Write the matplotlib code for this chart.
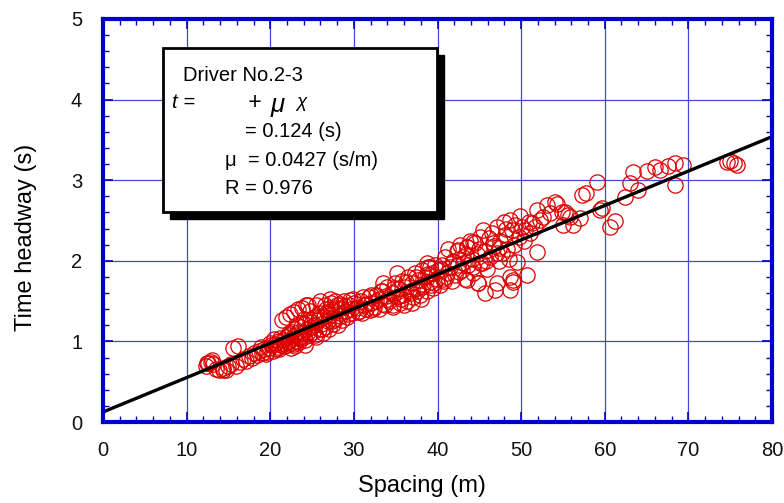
import matplotlib
matplotlib.use("Agg")
import matplotlib.pyplot as plt
from matplotlib.patches import Rectangle
from matplotlib.ticker import MultipleLocator
import numpy as np

plt.rcParams['font.family'] = ['Liberation Sans', 'DejaVu Sans']

# Regression coefficients
tau0 = 0.124
mu = 0.0427
r_value = 0.976

# Observed (spacing [m], time headway [s]) pairs
spacing = [
    12.3, 12.4, 12.6, 12.9, 13.0, 13.2, 13.5, 13.9, 14.3, 14.4, 14.7, 15.0, 15.3, 15.6, 16.1, 15.9,
    16.4, 16.8, 17.1, 17.4, 17.8, 18.1, 18.4, 18.7, 19.0, 19.3, 19.6,
    19.8, 20.1, 20.3, 20.6, 20.9, 21.1, 21.3, 21.5, 21.7, 21.9, 22.1, 22.2, 22.4, 22.5, 22.6, 22.7,
    22.8, 22.9, 23.0, 23.1, 21.4, 21.9, 22.4, 22.8, 23.3, 23.8, 24.3, 24.5, 20.5, 21.0, 22.0, 24.2,
    23.3, 23.5, 23.7, 23.9, 24.1, 24.2, 24.4, 24.6, 24.7, 24.9, 25.1, 25.2, 25.4, 25.5, 25.7, 25.8,
    26.0, 26.1, 26.3, 26.4, 26.6, 26.7, 26.9, 27.0, 27.2, 27.3, 27.5, 27.6, 27.8, 28.0, 28.1, 28.3,
    28.5, 28.6, 28.8, 29.0, 29.2, 29.4, 29.6, 29.8, 30.0, 26.0, 25.5, 24.8, 28.3, 27.2, 29.5,
    30.3, 30.6, 30.9, 31.2, 31.5, 31.8, 32.1, 32.4, 32.7, 33.0, 33.2, 33.5, 33.8, 34.0, 34.2, 34.5,
    34.7, 34.9, 35.1, 35.3, 35.5, 35.7, 35.9, 36.1, 36.3, 36.5, 36.7, 36.9, 37.1, 37.3, 37.5, 37.7,
    37.9, 38.1, 38.3, 38.5, 38.7, 38.9, 39.1, 39.3, 39.5, 39.7, 39.9, 40.1, 40.3, 36.0, 37.0, 38.0,
    33.0, 31.0, 35.2, 33.5, 31.1, 34.7, 31.9, 38.8, 39.1,
    40.5, 40.7, 40.9, 41.1, 41.3, 41.5, 41.7, 41.9, 42.1, 42.3, 42.5, 42.7, 42.9, 43.1, 43.3, 43.5,
    43.7, 43.9, 44.1, 44.3, 44.5, 44.7, 44.9, 45.1, 45.3, 45.5, 45.7, 45.7, 45.9, 46.1, 46.3, 46.5,
    46.7, 46.9, 47.1, 47.3, 47.5, 47.7, 47.9, 48.1, 48.3, 48.5, 48.7, 48.7, 48.9, 49.0, 49.1, 49.3,
    49.5, 49.7, 49.9, 50.1, 50.3, 50.5, 50.7, 50.9, 51.1, 51.3, 51.6, 51.9, 51.9, 52.3, 52.6, 53.1,
    53.5, 54.1, 54.3, 54.9, 55.0, 55.3, 55.6, 55.9, 56.2, 57.1, 57.3, 57.7, 59.1, 59.4, 59.7, 60.6,
    61.2, 62.4, 63.0, 63.4, 64.0, 65.0, 66.0, 66.6, 67.6, 68.4, 68.4, 69.4, 74.6, 75.0, 75.4, 75.8,
    42.5, 44.3, 43.5, 43.1, 45.1, 47.1, 47.1, 44.9, 43.5, 49.0, 48.7,
    18.9, 19.5, 20.0, 20.7, 21.2, 21.6, 22.3, 22.6, 23.2, 23.6, 24.0, 24.5, 25.0, 25.3, 25.9, 26.2,
    26.8, 27.4, 27.9, 28.4, 28.9, 29.3, 29.9, 30.5, 31.4, 32.0, 32.6, 33.4, 34.1, 34.8, 35.4, 36.2,
    36.8, 37.4, 38.2, 38.9, 39.6, 40.4, 41.0, 41.8, 42.6, 43.4, 44.2, 45.0, 45.8, 46.6, 47.4, 48.2,
    23.0, 23.4, 24.0, 26.5, 27.1, 27.7, 32.3, 33.7, 35.6, 37.6, 39.2, 40.8,
]
headway = [
    0.70, 0.73, 0.73, 0.75, 0.77, 0.72, 0.66, 0.64, 0.67, 0.65, 0.65, 0.69, 0.72, 0.92, 0.94, 0.70,
    0.74, 0.78, 0.76, 0.82, 0.80, 0.86, 0.83, 0.88, 0.85, 0.90, 0.87,
    0.92, 0.95, 0.88, 0.97, 0.93, 1.00, 0.96, 1.02, 0.94, 1.05, 0.99, 1.08, 1.02, 0.92, 1.12, 1.05,
    0.97, 1.15, 1.08, 1.01, 1.27, 1.30, 1.34, 1.36, 1.40, 1.42, 1.45, 1.45, 1.03, 0.90, 0.95, 0.96,
    1.12, 1.05, 1.18, 1.10, 1.22, 1.02, 1.15, 1.08, 1.25, 1.18, 1.12, 1.30, 1.20, 1.05, 1.27, 1.15,
    1.35, 1.22, 1.10, 1.30, 1.18, 1.40, 1.25, 1.15, 1.33, 1.48, 1.22, 1.38, 1.28, 1.45, 1.20, 1.35,
    1.42, 1.27, 1.50, 1.38, 1.30, 1.45, 1.40, 1.35, 1.48, 1.50, 1.45, 1.38, 1.47, 1.53, 1.51,
    1.42, 1.38, 1.50, 1.45, 1.40, 1.55, 1.48, 1.43, 1.58, 1.52, 1.62, 1.47, 1.56, 1.68, 1.50, 1.60,
    1.45, 1.72, 1.55, 1.65, 1.48, 1.75, 1.58, 1.68, 1.50, 1.80, 1.62, 1.72, 1.55, 1.85, 1.66, 1.76,
    1.58, 1.88, 1.70, 1.80, 1.62, 1.92, 1.74, 1.85, 1.66, 1.95, 1.78, 1.88, 1.70, 1.45, 1.48, 1.52,
    1.40, 1.35, 1.85, 1.72, 1.55, 1.43, 1.39, 1.97, 1.92,
    1.95, 1.78, 2.05, 1.85, 2.15, 1.92, 1.75, 2.00, 1.82, 2.12, 1.95, 2.20, 1.88, 2.05, 1.78, 2.17,
    1.95, 2.25, 2.02, 1.85, 2.22, 2.08, 1.72, 2.30, 1.97, 2.38, 2.12, 1.60, 1.90, 2.28, 2.05, 2.35,
    2.18, 1.64, 2.42, 2.00, 2.25, 2.10, 2.48, 2.32, 2.15, 2.02, 2.50, 1.64, 2.38, 1.76, 2.20, 2.45,
    1.99, 2.30, 2.55, 2.42, 2.25, 2.38, 1.82, 2.48, 2.35, 2.47, 2.42, 2.11, 2.63, 2.50, 2.54, 2.69,
    2.59, 2.73, 2.71, 2.61, 2.44, 2.61, 2.57, 2.54, 2.44, 2.53, 2.82, 2.84, 2.98, 2.63, 2.66, 2.42,
    2.49, 2.79, 2.96, 3.10, 2.88, 3.11, 3.16, 3.13, 3.18, 3.21, 2.94, 3.19, 3.23, 3.24, 3.21, 3.19,
    2.13, 2.23, 2.17, 1.97, 1.97, 2.10, 1.72, 1.72, 1.76, 1.74, 1.80,
    0.93, 0.84, 0.98, 0.90, 1.04, 0.97, 1.10, 0.98, 1.20, 1.03, 1.28, 1.12, 1.24, 1.08, 1.30, 1.16,
    1.36, 1.25, 1.42, 1.32, 1.44, 1.34, 1.52, 1.36, 1.46, 1.58, 1.50, 1.62, 1.52, 1.66, 1.56, 1.74,
    1.60, 1.80, 1.68, 1.84, 1.72, 1.90, 1.80, 1.98, 1.86, 2.08, 1.92, 2.15, 2.00, 2.22, 2.16, 2.40,
    0.94, 0.99, 1.05, 1.45, 1.42, 1.50, 1.40, 1.45, 1.52, 1.62, 1.70, 1.75,
]

x_ticks = [0, 10, 20, 30, 40, 50, 60, 70, 80]
y_ticks = [0, 1, 2, 3, 4, 5]

blue = '#0000cc'
grid_blue = '#4646d8'

fig = plt.figure(figsize=(7.84, 5.03), dpi=100)
ax = fig.add_axes([103 / 784, 81 / 503, 669 / 784, 403 / 503])

ax.plot(spacing, headway, linestyle='none', marker='o', markersize=11,
        markerfacecolor='none', markeredgecolor='#dd0000', markeredgewidth=0.9, zorder=3)

fit_x = np.array([0, 80])
ax.plot(fit_x, tau0 + mu * fit_x, color='black', linewidth=2.4, zorder=4)

ax.set_xlim(0, 80)
ax.set_ylim(0, 5)
ax.set_xticks(x_ticks)
ax.set_yticks(y_ticks)
ax.xaxis.set_minor_locator(MultipleLocator(2))
ax.yaxis.set_minor_locator(MultipleLocator(0.2))
ax.grid(True, which='major', color=grid_blue, linewidth=0.9, zorder=1)
ax.set_axisbelow(True)

for side in ['left', 'right', 'top', 'bottom']:
    ax.spines[side].set_color(blue)
    ax.spines[side].set_linewidth(3)
    ax.spines[side].set_zorder(6)

ax.tick_params(which='both', direction='in', top=True, right=True, color=blue)
ax.tick_params(which='major', length=7, width=1.2, labelsize=14.5, labelcolor='#111111')
ax.tick_params(axis='x', which='major', pad=14)
ax.tick_params(axis='y', which='major', pad=15)
ax.tick_params(which='minor', length=4, width=1.0)

ax.set_xlabel('Spacing (m)', fontsize=17)
ax.set_ylabel('Time headway (s)', fontsize=17)
ax.xaxis.set_label_coords(0.477, -0.132)
ax.yaxis.set_label_coords(-0.099, 0.457)

# Annotation box with drop shadow
bx0, bx1 = 7.18, 39.95
by0, by1 = 2.61, 4.64
ax.add_patch(Rectangle((bx0 + 0.85, by0 - 0.09), bx1 - bx0, by1 - by0,
                       facecolor='black', edgecolor='black', zorder=7))
ax.add_patch(Rectangle((bx0, by0), bx1 - bx0, by1 - by0,
                       facecolor='white', edgecolor='black', linewidth=2, zorder=8))

fs = 14.5
ax.text(9.6, 4.305, 'Driver No.2-3', fontsize=fs, va='center', ha='left', zorder=9)
ax.text(8.3, 3.96, 't =', fontsize=fs, va='center', ha='left', zorder=9, style='italic')
ax.text(17.3, 3.96, '+', fontsize=fs + 2, va='center', ha='left', zorder=9, style='italic')
ax.text(20.0, 3.93, 'μ', fontsize=fs + 4, va='center', ha='left', zorder=9, style='italic')
ax.text(23.1, 3.96, 'χ', fontsize=fs - 1, va='center', ha='left', zorder=9, style='italic')
ax.text(17.0, 3.61, '= 0.124 (s)', fontsize=fs, va='center', ha='left', zorder=9)
ax.text(14.6, 3.25, 'μ  = 0.0427 (s/m)', fontsize=fs, va='center', ha='left', zorder=9)
ax.text(14.6, 2.90, 'R = 0.976', fontsize=fs, va='center', ha='left', zorder=9)

fig.savefig('out.png', dpi=100)
